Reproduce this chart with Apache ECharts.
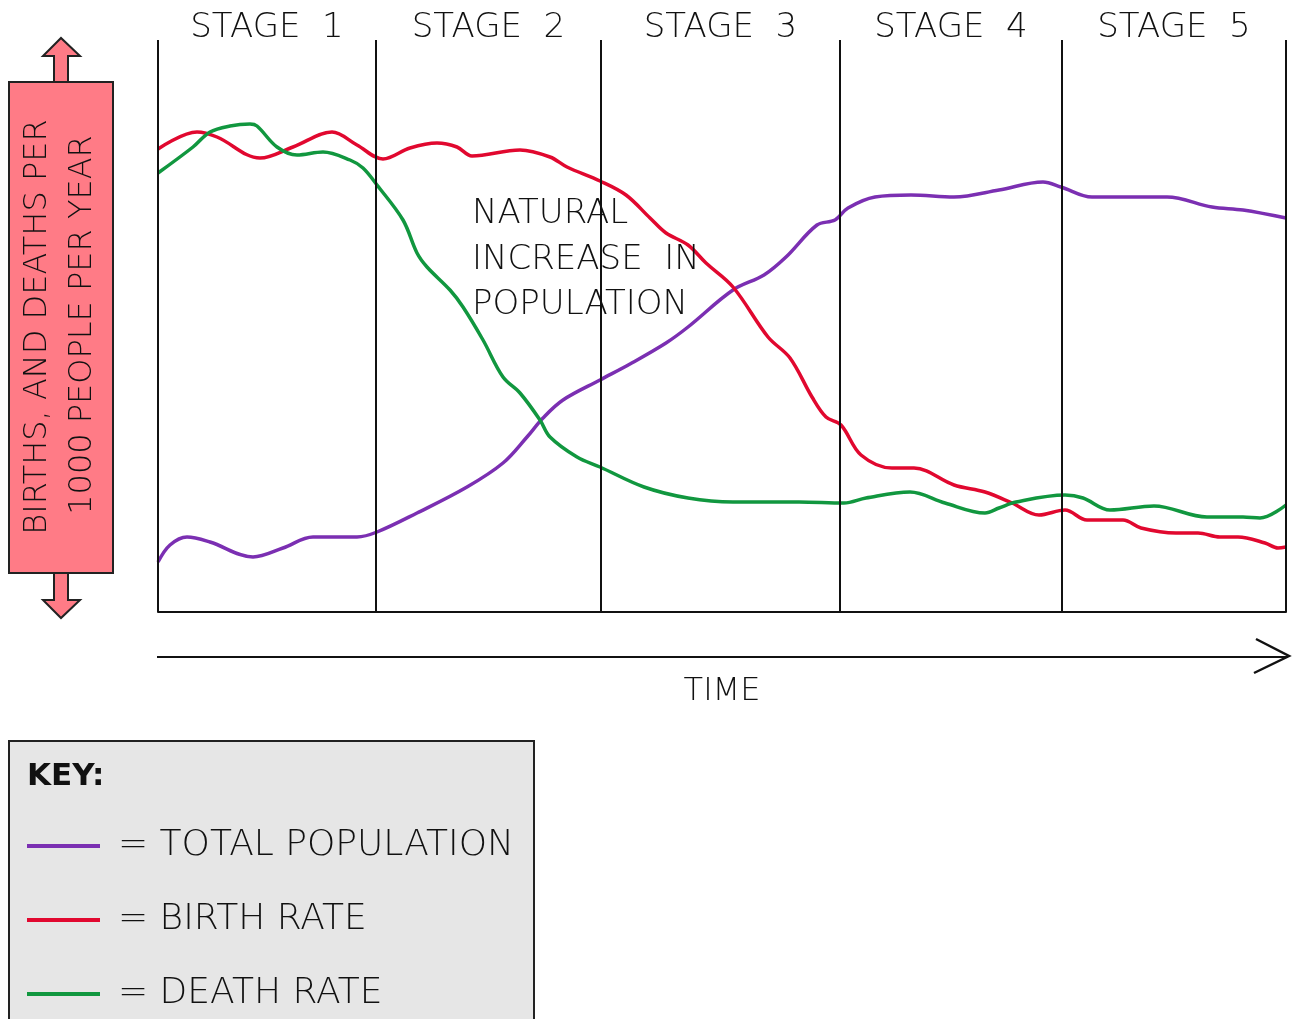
<!DOCTYPE html>
<html>
<head>
<meta charset="utf-8">
<script src="https://cdn.jsdelivr.net/npm/echarts@6/dist/echarts.min.js"></script>
<style>html,body{margin:0;padding:0;background:#fff}#c{width:1294px;height:1019px}</style>
</head>
<body>
<div id="c"></div>
<script>
// x = time position (arbitrary units), y = level (arbitrary units)
const stageNames = ['STAGE  1', 'STAGE  2', 'STAGE  3', 'STAGE  4', 'STAGE  5'];
const stageBounds = [0, 218, 443, 682, 904, 1128];
const seriesNames = ['TOTAL POPULATION', 'BIRTH RATE', 'DEATH RATE'];
const totalPopulation = [[0,50],[12,67],[29,75],[52,70],[95,55],[125,64],[155,75],[199,75],[219,80],[259,99],[309,125],[345,149],[369,175],[385,194],[405,212],[442,232],[472,248],[508,269],[530,285],[575,322],[606,337],[628,355],[659,387],[677,392],[690,404],[717,415],[753,417],[796,415],[841,422],[885,430],[903,425],[934,415],[974,415],[1009,415],[1054,405],[1085,402],[1128,394]];
const birthRate = [[0,463],[39,480],[59,475],[102,454],[135,465],[174,480],[199,467],[225,453],[252,464],[279,469],[299,465],[314,456],[362,462],[392,455],[409,445],[442,431],[468,417],[492,394],[508,379],[530,367],[548,349],[575,325],[610,275],[632,254],[654,215],[668,195],[683,187],[703,157],[734,144],[756,144],[796,127],[827,120],[854,109],[881,97],[907,102],[929,92],[965,92],[983,84],[1018,79],[1040,79],[1062,75],[1080,75],[1107,69],[1120,64],[1128,65]];
const deathRate = [[0,439],[35,465],[52,480],[72,486],[92,488],[99,486],[119,465],[139,457],[165,460],[192,452],[205,444],[219,427],[245,392],[259,359],[269,345],[292,322],[305,305],[325,272],[345,235],[362,219],[382,192],[392,175],[419,155],[442,145],[486,125],[530,114],[575,110],[641,110],[686,109],[708,114],[752,120],[787,109],[827,99],[841,104],[858,110],[907,117],[925,114],[952,102],[996,106],[1049,95],[1085,95],[1102,94],[1128,107]];
const colors = ['#7B2FB2', '#E1082F', '#11973F'];
const FONT = 'DejaVu Sans';
const FW = 200;

const chart = echarts.init(document.getElementById('c'), null, {renderer: 'canvas'});

const markAreaData = stageNames.map((n, i) => [{xAxis: stageBounds[i], name: n}, {xAxis: stageBounds[i + 1]}]);
const markLineData = stageBounds.map(v => ({xAxis: v}));

function lineSeries(name, data, color, extra) {
  return Object.assign({
    name: name, type: 'line', data: data, smooth: 0.35, symbol: 'none',
    lineStyle: {color: color, width: 3.5}, itemStyle: {color: color}, z: 3
  }, extra || {});
}

chart.setOption({
  animation: false,
  backgroundColor: '#ffffff',
  grid: {left: 158, right: 8, top: 40, bottom: 407},
  xAxis: {
    type: 'value', min: 0, max: 1128,
    axisLine: {show: true, onZero: false, lineStyle: {color: '#111', width: 2}},
    axisTick: {show: false}, axisLabel: {show: false}, splitLine: {show: false}
  },
  yAxis: {
    type: 'value', min: 0, max: 572,
    axisLine: {show: false}, axisTick: {show: false}, axisLabel: {show: false}, splitLine: {show: false}
  },
  legend: {
    orient: 'vertical', left: 27, top: 828, itemGap: 38, padding: 0,
    icon: 'rect', itemWidth: 73, itemHeight: 4,
    data: seriesNames,
    formatter: n => '= ' + n,
    textStyle: {fontFamily: FONT, fontWeight: FW, fontSize: 36, lineHeight: 34, color: '#111', padding: [0, 0, 0, 13]},
    selectedMode: false
  },
  series: [
    lineSeries(seriesNames[0], totalPopulation, colors[0], {
      markLine: {
        silent: true, symbol: 'none', label: {show: false},
        lineStyle: {color: '#111', width: 2, type: 'solid'},
        data: markLineData
      },
      markArea: {
        silent: true, itemStyle: {color: 'rgba(0,0,0,0)'},
        label: {show: true, position: 'top', distance: -5, fontFamily: FONT, fontWeight: FW, fontSize: 34, color: '#111'},
        data: markAreaData
      }
    }),
    lineSeries(seriesNames[1], birthRate, colors[1]),
    lineSeries(seriesNames[2], deathRate, colors[2])
  ],
  graphic: [
    // TIME arrow
    {type: 'polyline', shape: {points: [[157, 657], [1288, 657]]}, style: {stroke: '#111', lineWidth: 2}},
    {type: 'polyline', shape: {points: [[1256, 639], [1289, 656], [1254, 673]]}, style: {stroke: '#111', lineWidth: 2.5, fill: null}},
    {type: 'text', x: 722, y: 692, style: {text: 'TIME', fontFamily: FONT, fontWeight: FW, fontSize: 32, fill: '#111', align: 'center', verticalAlign: 'middle'}},
    // annotation
    {type: 'text', x: 472, y: 214, style: {text: 'NATURAL', fontFamily: FONT, fontWeight: FW, fontSize: 34, fill: '#111', align: 'left', verticalAlign: 'middle'}, z: 10},
    {type: 'text', x: 472, y: 260, style: {text: 'INCREASE  IN', fontFamily: FONT, fontWeight: FW, fontSize: 34, fill: '#111', align: 'left', verticalAlign: 'middle'}, z: 10},
    {type: 'text', x: 472, y: 305, style: {text: 'POPULATION', fontFamily: FONT, fontWeight: FW, fontSize: 34, fill: '#111', align: 'left', verticalAlign: 'middle'}, z: 10},
    // y label box with arrows
    {type: 'polygon', shape: {points: [[54, 82], [54, 56], [43, 56], [61, 38], [80, 56], [68, 56], [68, 82]]}, style: {fill: '#FF7B86', stroke: '#222', lineWidth: 2}},
    {type: 'polygon', shape: {points: [[54, 573], [54, 600], [43, 600], [61, 618], [80, 600], [68, 600], [68, 573]]}, style: {fill: '#FF7B86', stroke: '#222', lineWidth: 2}},
    {type: 'rect', shape: {x: 9, y: 82, width: 104, height: 491}, style: {fill: '#FF7B86', stroke: '#222', lineWidth: 2}},
    {type: 'text', x: 38, y: 327, rotation: Math.PI / 2, style: {text: 'BIRTHS, AND DEATHS PER', fontFamily: FONT, fontWeight: FW, fontSize: 32, fill: '#111', align: 'center', verticalAlign: 'middle'}},
    {type: 'text', x: 83, y: 325, rotation: Math.PI / 2, style: {text: '1000 PEOPLE PER YEAR', fontFamily: FONT, fontWeight: FW, fontSize: 32, fill: '#111', align: 'center', verticalAlign: 'middle'}},
    // key box
    {type: 'rect', shape: {x: 9, y: 741, width: 525, height: 300}, style: {fill: '#E6E6E6', stroke: '#222', lineWidth: 2}, z: -10},
    {type: 'text', x: 27, y: 777, style: {text: 'KEY:', fontFamily: FONT, fontSize: 31, fontWeight: 'bold', fill: '#111', align: 'left', verticalAlign: 'middle'}}
  ]
});
</script>
</body>
</html>
